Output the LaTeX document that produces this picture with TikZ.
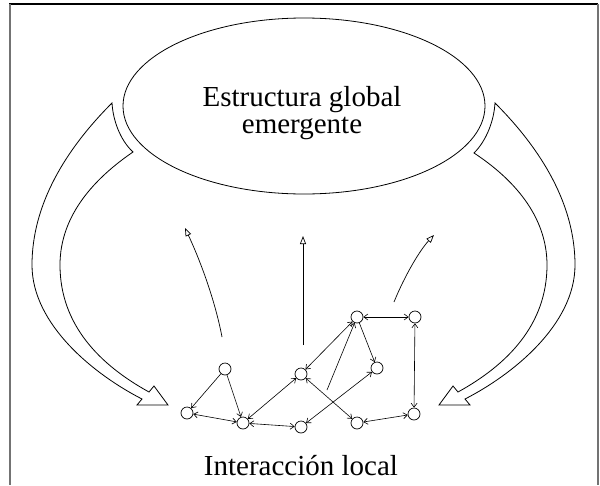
\documentclass[tikz,border=0pt]{standalone}
\usepackage{fontspec}
\setmainfont{Liberation Serif}
\usetikzlibrary{arrows.meta,shapes.geometric}

\tikzset{
  agent/.style={circle,draw,inner sep=0pt,minimum size=12pt,line width=0.7pt},
  rise/.style={line width=0.7pt,-{Triangle[open,length=8pt,width=6pt]}},
  fat/.style={line width=0.8pt},
  big/.style={font=\fontsize{29}{27}\selectfont,inner sep=0pt,anchor=base}
}

\begin{document}
\begin{tikzpicture}[x=1pt,y=-1pt,>={Straight Barb[length=4pt,width=6pt]},line width=0.6pt]
\useasboundingbox (0,0) rectangle (600,485);

% frame
\draw[line width=1.3pt] (9,4) -- (598,4);
\draw[black!55,line width=2pt] (10,4) -- (10,485);
\draw[black!55,line width=2pt] (597.5,4) -- (597.5,485);

% global structure
\node[draw,ellipse,minimum width=362pt,minimum height=176pt,line width=0.8pt] (global) at (304,106) {};
\node[big] (globaltxt) at (302,106) {Estructura global};
\node[big] (emergtxt) at (302,133) {emergente};

% big arrows down
\draw[fat] (112,103) .. controls (65,150) and (32,205) .. (32,265) .. controls (32,325) and (95,375) .. (142,399) -- (137,405) -- (168,405) -- (154,386) -- (149,392) .. controls (100,365) and (60,325) .. (60,265) .. controls (60,215) and (95,178) .. (133,152) .. controls (120,140) and (113,120) .. (112,103) -- cycle;
\draw[fat] (495,103) .. controls (542,150) and (575,205) .. (575,265) .. controls (575,325) and (512,375) .. (465,399) -- (470,405) -- (439,405) -- (453,386) -- (458,392) .. controls (507,365) and (547,325) .. (547,265) .. controls (547,215) and (512,178) .. (474,153) .. controls (487,140) and (494,120) .. (495,103) -- cycle;

% arrows up
\coordinate (l0) at (222,337);
\coordinate (l1) at (185,228);
\coordinate (c0) at (303,345);
\coordinate (c1) at (303,236);
\coordinate (r0) at (394,302);
\coordinate (r1) at (434,235);
\draw[rise] (l0) .. controls (215,300) and (200,260) .. (l1);
\draw[rise] (c0) -- (c1);
\draw[rise] (r0) .. controls (405,275) and (420,250) .. (r1);

% agents
\node[agent] (a) at (225,369) {};
\node[agent] (b) at (187,413) {};
\node[agent] (c) at (243,423) {};
\node[agent] (d) at (301,374) {};
\node[agent] (e) at (301,427) {};
\node[agent] (f) at (357,317) {};
\node[agent] (g) at (415,317) {};
\node[agent] (h) at (377,368) {};
\node[agent] (i) at (357,423) {};
\node[agent] (j) at (414,414) {};
\coordinate (m) at (327,390);

\draw[->] (a) -- (b);
\draw[->] (a) -- (c);
\draw[<->] (b) -- (c);
\draw[<->] (c) -- (d);
\draw[<->] (c) -- (e);
\draw[<->] (d) -- (f);
\draw[<->] (d) -- (i);
\draw[<->] (e) -- (h);
\draw[->] (f) -- (h);
\draw[<->] (f) -- (g);
\draw[<->] (g) -- (j);
\draw[<->] (i) -- (j);
\draw[->] (m) -- (f);

\node[big] (local) at (301,475) {Interacción local};
\end{tikzpicture}
\end{document}
